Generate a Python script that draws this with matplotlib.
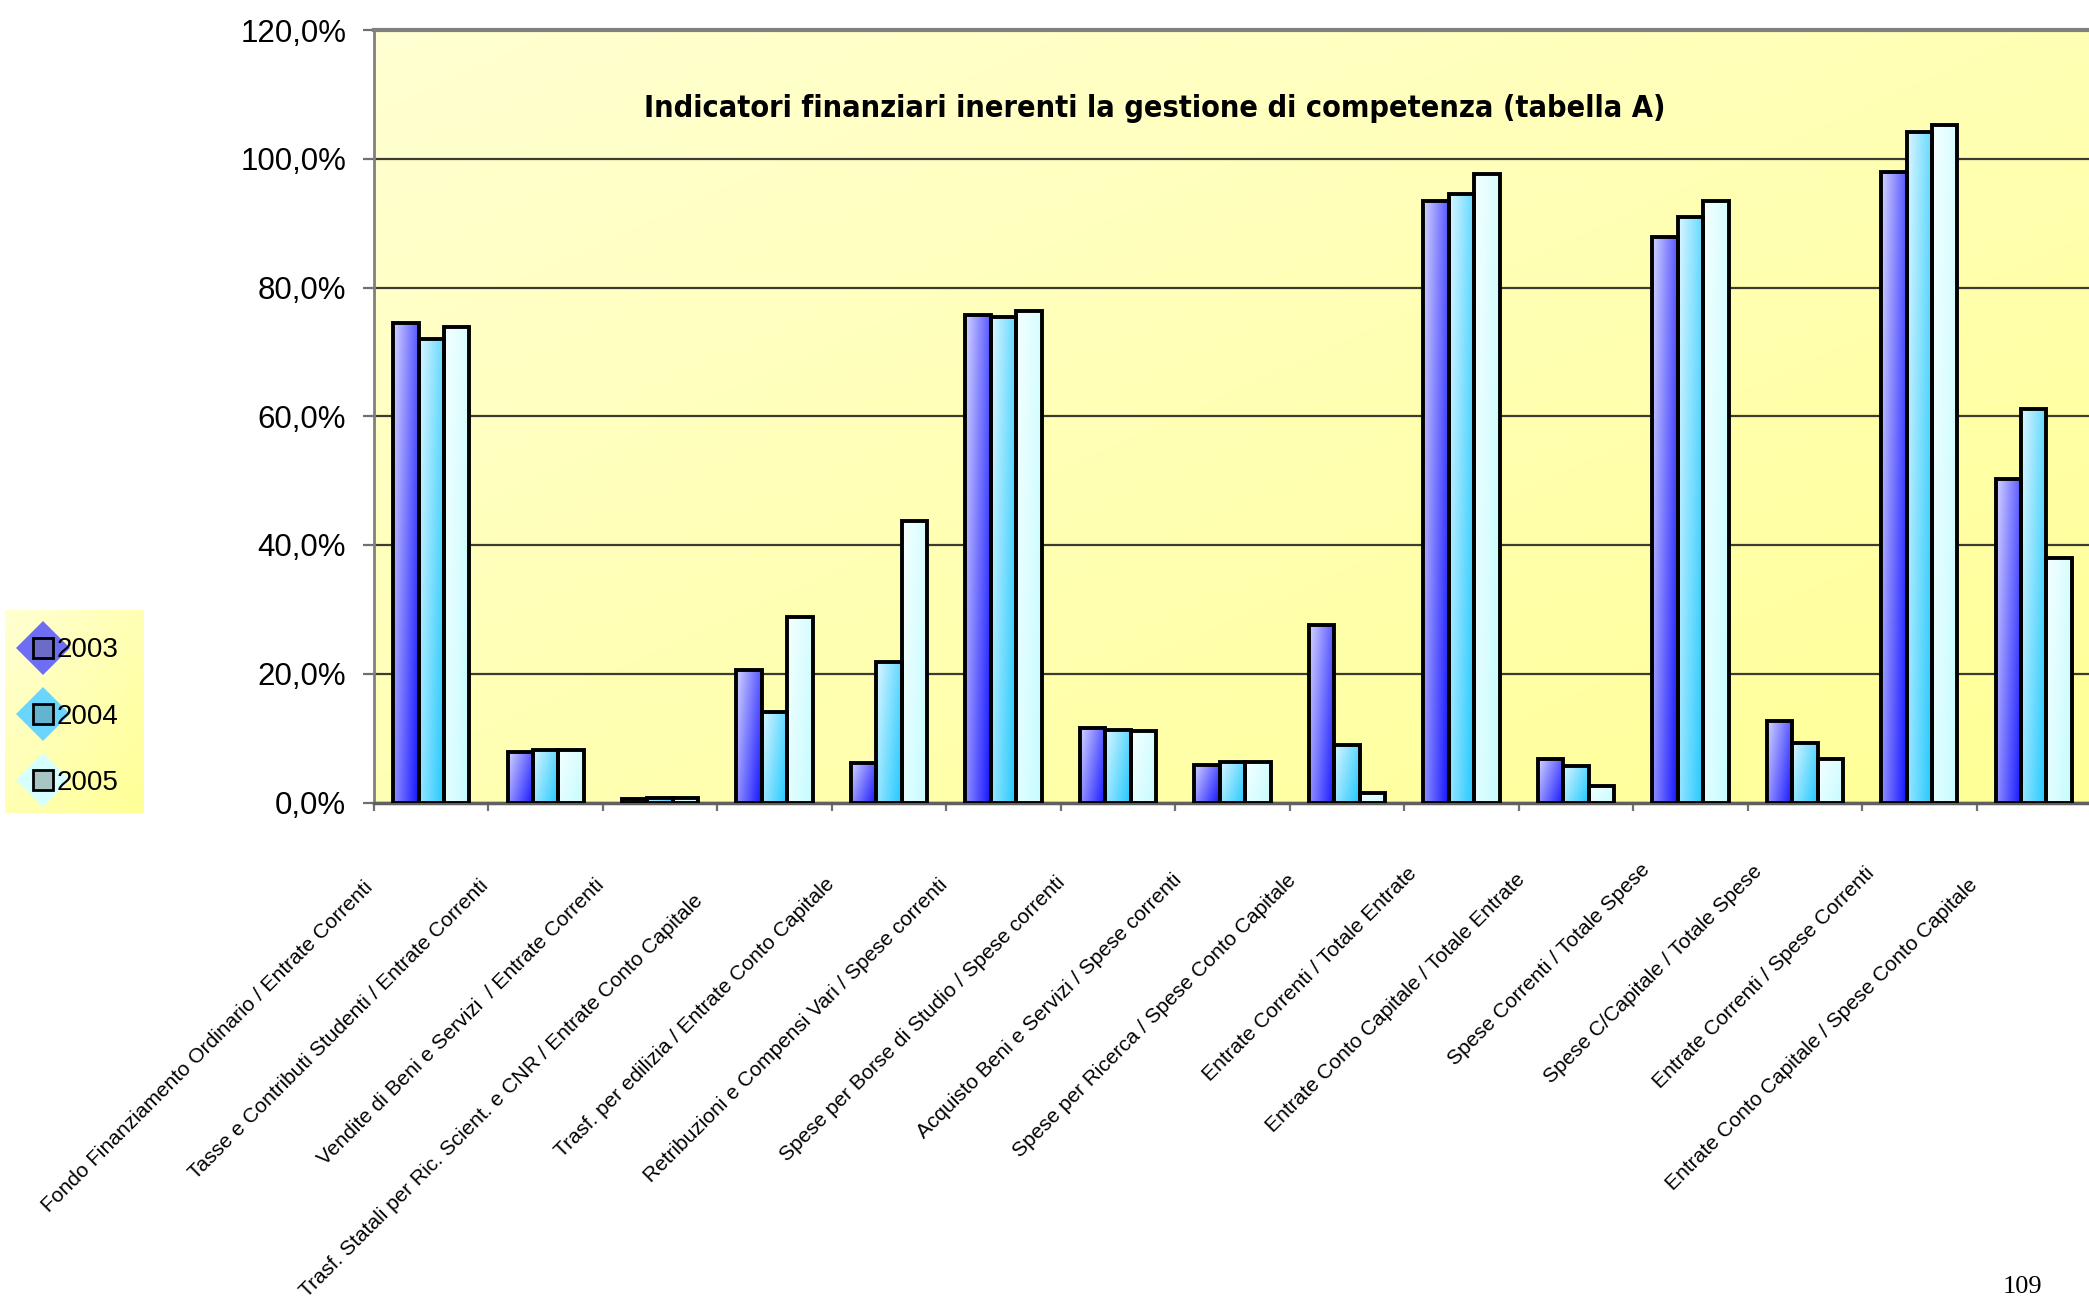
import numpy as np
import matplotlib
matplotlib.use('Agg')
import matplotlib.pyplot as plt
from matplotlib import font_manager
from matplotlib.colors import LinearSegmentedColormap
from matplotlib.lines import Line2D
from matplotlib.legend_handler import HandlerTuple
from matplotlib.transforms import ScaledTranslation
from matplotlib.ticker import FuncFormatter, FixedLocator

# dati (valori in %)
categorie = [
    "Fondo Finanziamento Ordinario / Entrate Correnti",
    "Tasse e Contributi Studenti / Entrate Correnti",
    "Vendite di Beni e Servizi  / Entrate Correnti",
    "Trasf. Statali per Ric. Scient. e CNR / Entrate Conto Capitale",
    "Trasf. per edilizia / Entrate Conto Capitale",
    "Retribuzioni e Compensi Vari / Spese correnti",
    "Spese per Borse di Studio / Spese correnti",
    "Acquisto Beni e Servizi / Spese correnti",
    "Spese per Ricerca / Spese Conto Capitale",
    "Entrate Correnti / Totale Entrate",
    "Entrate Conto Capitale / Totale Entrate",
    "Spese Correnti / Totale Spese",
    "Spese C/Capitale / Totale Spese",
    "Entrate Correnti / Spese Correnti",
    "Entrate Conto Capitale / Spese Conto Capitale",
]
anni = ['2003', '2004', '2005']
v2003 = [74.5, 7.8, 0.6, 20.6, 6.2, 75.7, 11.5, 5.9, 27.6, 93.5, 6.8, 87.9, 12.6, 97.9, 50.2]
v2004 = [72.0, 8.1, 0.7, 14.0, 21.8, 75.4, 11.2, 6.3, 8.9, 94.6, 5.7, 91.0, 9.3, 104.1, 61.2]
v2005 = [73.9, 8.1, 0.7, 28.8, 43.7, 76.3, 11.1, 6.3, 1.5, 97.7, 2.6, 93.5, 6.8, 105.2, 38.0]
y_ticks = [0, 20, 40, 60, 80, 100, 120]

# colori gradiente (chiaro -> scuro)
grad_colori = [('#D4D4FF', '#1414FF'), ('#DCF6FF', '#1EC8FF'), ('#F6FFFF', '#C4FCFF')]
legenda_diamanti = ['#6E6EF4', '#6AD6FF', '#D6FFFF']
legenda_quadrati = ['#6C6CC8', '#62B4D0', '#A8C4C4']

# titolo: font condensato se disponibile
condensato = any(f.name == 'DejaVu Sans' and f.stretch == 'condensed' and f.weight in ('bold', 700)
                 for f in font_manager.fontManager.ttflist)
if condensato:
    stretch_titolo, size_titolo = 'condensed', 22
else:
    stretch_titolo, size_titolo = 'normal', 20

fig = plt.figure(figsize=(20.89, 13.03), dpi=100)
W, H = 2089, 1303
ax = fig.add_axes([374 / W, 1 - 802.5 / H, (2091 - 374) / W, (802.5 - 30) / H])
ax.patch.set_visible(False)

# sfondo giallo sfumato
u = np.linspace(0, 1, 200)
uu, vv = np.meshgrid(u, u)
bg = (uu + (1 - vv)) / 2
cmap_bg = LinearSegmentedColormap.from_list('bg', ['#FFFFD2', '#FFFF96'])
ax.imshow(bg, extent=(0, 1, 0, 1), transform=ax.transAxes, aspect='auto',
          cmap=cmap_bg, origin='lower', zorder=0)

x = np.arange(len(categorie))
w = 1 / 4.5
serie = [v2003, v2004, v2005]

gx, gy = np.meshgrid(np.linspace(0, 1, 40), np.linspace(0, 1, 60))
grad = 0.65 * gx + 0.35 * (1 - gy)

for k, valori in enumerate(serie):
    bars = ax.bar(x + (k - 1) * w, valori, width=w, facecolor='none',
                  edgecolor='black', linewidth=2.8, zorder=3, label=anni[k])
    cm = LinearSegmentedColormap.from_list('s%d' % k, list(grad_colori[k]))
    for b in bars:
        x0, y0 = b.get_x(), b.get_y()
        im = ax.imshow(grad, extent=(x0, x0 + b.get_width(), y0, y0 + b.get_height()),
                       aspect='auto', cmap=cm, origin='lower', zorder=2.5,
                       interpolation='bilinear')
        im.set_clip_path(b)

ax.set_xlim(-0.5, len(categorie) - 0.5)
ax.set_ylim(0, 120)

# griglia e assi
ax.set_yticks(y_ticks)
ax.yaxis.set_major_formatter(FuncFormatter(lambda v, p: ('%.1f%%' % v).replace('.', ',')))
ax.yaxis.grid(True, color='#3C3C32', linewidth=1.6, zorder=1)
ax.set_axisbelow(True)
ax.tick_params(axis='y', direction='out', length=8, width=1.6, color='#707070',
               pad=12, labelsize=22.5)
for t in ax.get_yticklabels():
    t.set_fontfamily('Liberation Sans')

ax.spines['right'].set_visible(False)
ax.spines['top'].set_color('#808080')
ax.spines['top'].set_linewidth(3)
ax.spines['left'].set_color('#808080')
ax.spines['left'].set_linewidth(2)
ax.spines['bottom'].set_color('#606060')
ax.spines['bottom'].set_linewidth(2.5)

ax.set_xticks(x)
ax.set_xticklabels(categorie, rotation=45, ha='right', va='top',
                   rotation_mode='anchor', fontsize=15, family='Liberation Sans')
ax.xaxis.set_minor_locator(FixedLocator(np.arange(-0.5, len(categorie), 1.0)))
ax.tick_params(axis='x', which='major', length=0, pad=0)
ax.tick_params(axis='x', which='minor', direction='out', length=6, width=1.6, color='#707070')
for lab, testo in zip(ax.get_xticklabels(), categorie):
    L = len(testo) * 9.5
    dx = -(23 + 0.1 * L) / 100
    dy = -(30 + 0.1 * L) / 100
    lab.set_transform(lab.get_transform() + ScaledTranslation(dx, dy, fig.dpi_scale_trans))

ax.text(0.455, 0.899, 'Indicatori finanziari inerenti la gestione di competenza (tabella A)',
        transform=ax.transAxes, ha='center', va='center', fontsize=size_titolo,
        fontweight='bold', family='DejaVu Sans', fontstretch=stretch_titolo, zorder=5)

# legenda su riquadro sfumato
lax = fig.add_axes([5 / W, 1 - 813 / H, 139 / W, 203 / H])
lax.imshow(bg, extent=(0, 1, 0, 1), aspect='auto', cmap=cmap_bg, origin='lower')
lax.set_xlim(0, 1)
lax.set_ylim(0, 1)
lax.axis('off')
maniglie = []
for k in range(3):
    d = Line2D([], [], linestyle='none', marker='D', markersize=27,
               markerfacecolor=legenda_diamanti[k], markeredgewidth=0)
    q = Line2D([], [], linestyle='none', marker='s', markersize=14,
               markerfacecolor=legenda_quadrati[k], markeredgecolor='black',
               markeredgewidth=2)
    maniglie.append((d, q))
leg = lax.legend(maniglie, anni, loc='center', bbox_to_anchor=(0.47, 0.475), frameon=False,
                 handler_map={tuple: HandlerTuple(ndivide=1)},
                 labelspacing=1.45, handlelength=1.5, handletextpad=-0.25,
                 borderaxespad=0, prop={'family': 'Liberation Sans', 'size': 20})

fig.text(2022 / W, 1 - 1287 / H, '109', ha='center', va='center', fontsize=19,
         family='Liberation Serif')

fig.savefig('out.png', dpi=100)
